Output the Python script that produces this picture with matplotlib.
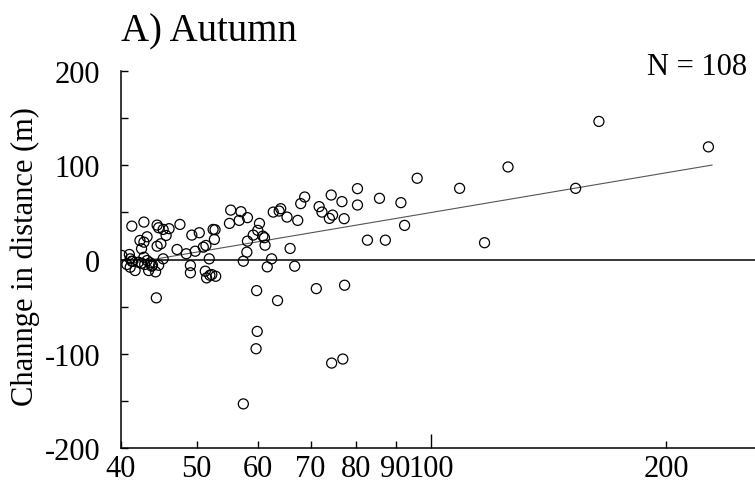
import matplotlib
matplotlib.use("Agg")
import matplotlib.pyplot as plt
import numpy as np

plt.rcParams['font.family'] = ['Liberation Serif', 'DejaVu Serif']
plt.rcParams['axes.unicode_minus'] = False

# distance (x, log axis) and change in distance (y)
dist = [47.2, 47.6, 41.3, 42.8, 44.5, 44.7, 45.3, 46.1, 45.7, 42.3,
        43.2, 42.8, 42.5, 44.5, 45.0, 49.3, 50.4, 52.5, 48.5, 49.8,
        51.0, 51.4, 51.9, 40.1, 41.0, 41.1, 41.3, 40.7, 41.1, 41.7,
        42.1, 42.8, 43.2, 42.9, 43.6, 43.8, 43.4, 44.3, 44.7, 45.3,
        49.1, 49.1, 51.3, 52.0, 51.5, 44.4, 55.3, 57.0, 58.1, 56.7,
        55.1, 62.7, 64.1, 63.8, 65.3, 67.4, 68.0, 68.8, 52.8, 52.7,
        60.2, 59.9, 59.1, 60.8, 61.1, 58.1, 61.2, 58.0, 57.4, 62.4,
        65.9, 61.6, 66.8, 52.3, 52.9, 59.7, 63.5, 95.9, 80.4, 74.4,
        76.8, 80.4, 85.8, 91.4, 71.8, 72.4, 74.7, 74.0, 77.3, 92.4,
        82.8, 87.3, 71.2, 77.4, 59.8, 59.6, 74.5, 77.0, 57.4, 164.0,
        226.6, 125.4, 108.7, 153.1, 117.0, 41.4, 42.5, 43.9]
change = [10.6, 37.2, 35.4, 39.7, 36.5, 33.7, 31.9, 32.7, 25.5, 20.2,
          24.1, 18.4, 11.4, 14.1, 16.7, 25.9, 28.4, 31.9, 6.1, 8.8,
          13.1, 14.9, 0.7, 4.3, 5.3, 0.7, -1.8, -5.3, -8.2, -11.7,
          -2.9, 2.4, -1.1, -5.3, -3.5, -7.1, -11.7, -13.1, -6.1, 0.7,
          -6.4, -14.1, -12.4, -16.7, -19.5, -40.7, 52.4, 50.7, 44.4, 41.5,
          38.3, 50.3, 53.9, 51.4, 45.0, 41.5, 59.3, 66.3, 31.6, 21.3,
          38.3, 30.9, 25.9, 24.8, 23.1, 19.5, 15.2, 7.8, -1.8, 0.7,
          11.7, -7.8, -7.1, -16.0, -17.8, -33.0, -43.6, 86.2, 75.2, 68.4,
          61.4, 57.8, 64.9, 60.3, 56.1, 50.3, 47.1, 43.6, 43.3, 36.2,
          20.5, 20.5, -30.9, -27.3, -76.3, -94.7, -109.9, -105.6, -153.2, 146.5,
          119.5, 98.2, 75.5, 75.5, 17.8, -2.0, -4.0, -6.0]

# regression of change on log10(distance)
fit_intercept = -229.7
fit_slope = 139.8
fit_x = np.array([41, 229])

x_minor = [40, 50, 60, 70, 80, 90, 200]
x_major = [100]

fig = plt.figure(figsize=(7.55, 5.02), dpi=100)
ax = fig.add_axes([121 / 755, 53 / 502, 634 / 755, 377 / 502])

ax.scatter(dist, change, s=52, facecolors='none', edgecolors='black', linewidths=0.9, zorder=3)
ax.plot(fit_x, fit_intercept + fit_slope * np.log10(fit_x), color='#555555', lw=0.8)
ax.axhline(0, color='black', lw=1.1)

ax.set_xscale('log')
ax.set_xlim(40, 260)
ax.set_ylim(-200, 200)

ax.set_xticks(x_major, [str(v) for v in x_major])
ax.set_xticks(x_minor, [str(v) for v in x_minor], minor=True)
ax.set_yticks([-200, -100, 0, 100, 200])
ax.set_yticks([-150, -50, 50, 150], minor=True)

ax.tick_params(axis='x', which='major', direction='in', length=10, width=1, labelsize=22, pad=4)
ax.tick_params(axis='x', which='minor', direction='in', length=5, width=1, labelsize=22, pad=4)
ax.tick_params(axis='y', which='both', direction='in', length=5, width=1, labelsize=22, pad=15)
ax.tick_params(axis='y', which='minor', labelleft=False)

for side in ['top', 'right']:
    ax.spines[side].set_visible(False)
for side in ['left', 'bottom']:
    ax.spines[side].set_linewidth(1.1)

fig.text(121 / 755, 1 - 41 / 502, 'A) Autumn', ha='left', va='baseline', fontsize=28)
fig.text(747 / 755, 1 - 75 / 502, 'N = 108', ha='right', va='baseline', fontsize=22)
fig.text(25 / 755, 1 - 257 / 502, 'Channge in distance (m)', rotation=90,
         ha='center', va='center', fontsize=22)

fig.savefig('out.png', dpi=100)
